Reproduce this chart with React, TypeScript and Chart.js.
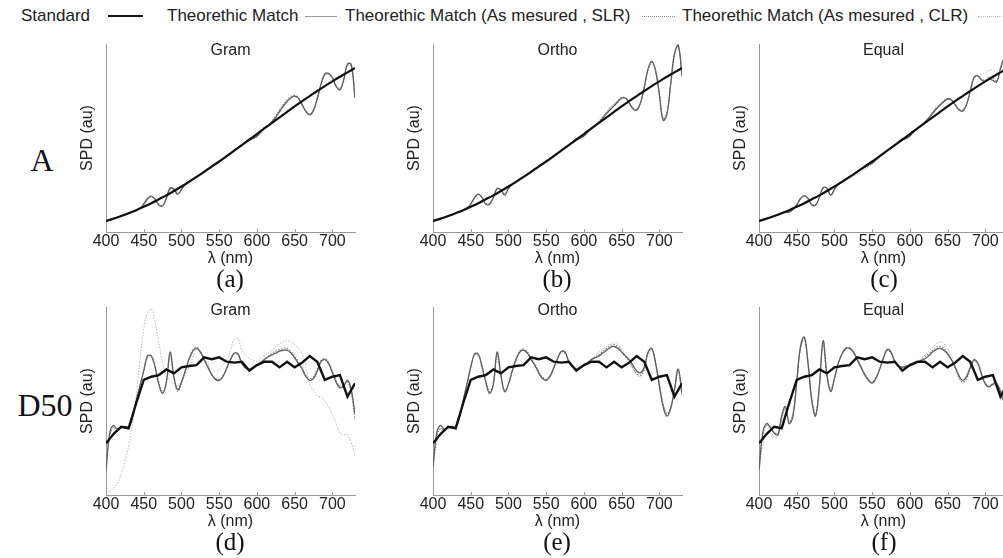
import React, { useEffect, useRef } from "react";
import { Chart, registerables } from "chart.js";

Chart.register(...registerables);

// ---------------- data ----------------
const wavelengths5 = [
  400, 405, 410, 415, 420, 425, 430, 435, 440, 445,
  450, 455, 460, 465, 470, 475, 480, 485, 490, 495,
  500, 505, 510, 515, 520, 525, 530, 535, 540, 545,
  550, 555, 560, 565, 570, 575, 580, 585, 590, 595,
  600, 605, 610, 615, 620, 625, 630, 635, 640, 645,
  650, 655, 660, 665, 670, 675, 680, 685, 690, 695,
  700, 705, 710, 715, 720, 725, 730,
];
const wavelengths10 = [
  400, 410, 420, 430, 440, 450, 460, 470, 480, 490, 500, 510, 520, 530, 540, 550, 560,
  570, 580, 590, 600, 610, 620, 630, 640, 650, 660, 670, 680, 690, 700, 710, 720, 730,
];
const xTickValues = [400, 450, 500, 550, 600, 650, 700];

const legendLabels = [
  "Standard",
  "Theorethic Match",
  "Theorethic Match (As mesured , SLR)",
  "Theorethic Match (As mesured , CLR)",
];
const panelTitles = ["Gram", "Ortho", "Equal"];
const rowLabels = ["A", "D50"];
const panelLetters = ["(a)", "(b)", "(c)", "(d)", "(e)", "(f)"];

// Illuminant A standard (10 nm)
const standardA = [
  5.9, 7.1, 8.5, 10.0, 11.6, 13.4, 15.3, 17.4, 19.5, 21.8, 24.2, 26.7, 29.3, 32.0, 34.8, 37.5, 40.4,
  43.3, 46.2, 49.2, 52.1, 55.1, 58.0, 61.0, 63.9, 66.8, 69.6, 72.3, 75.0, 77.6, 80.1, 82.6, 84.9, 87.2,
];
// D50 standard (10 nm)
const standardD50 = [
  27.5, 32.4, 36.3, 35.5, 48.8, 61.2, 62.9, 63.8, 66.8, 64.7, 67.9, 68.6, 69.1, 73.2, 72.2, 73.2, 70.9,
  70.4, 70.9, 66.1, 69.1, 70.9, 70.9, 67.9, 70.9, 67.9, 70.4, 73.9, 70.9, 61.2, 62.9, 63.8, 52.3, 59.4,
];

// ---- Row A ----
const gramA_TM = [
  5.9, 6.5, 7.1, 7.8, 8.5, 9.2, 10.0, 10.8, 11.6, 12.5,
  14.9, 17.8, 19.1, 17.3, 14.4, 13.9, 18.0, 23.4, 22.8, 20.0,
  22.7, 25.4, 26.7, 28.0, 29.3, 30.6, 32.0, 33.4, 34.8, 36.1,
  37.5, 39.0, 40.4, 41.8, 43.3, 44.7, 46.2, 47.7, 49.0, 49.8,
  50.9, 53.1, 55.6, 56.5, 58.5, 61.0, 64.0, 66.9, 69.4, 71.3,
  72.3, 71.2, 67.6, 64.0, 62.3, 64.7, 71.0, 78.8, 84.1, 84.4,
  82.1, 77.4, 75.6, 80.8, 89.4, 89.1, 71.2,
];
const gramA_SLR = [
  6.0, 6.6, 7.2, 7.9, 8.6, 9.2, 10.0, 10.8, 11.5, 12.4,
  14.6, 17.5, 19.0, 17.5, 14.7, 14.0, 17.6, 23.0, 23.2, 20.4,
  22.5, 25.2, 26.8, 28.2, 29.4, 30.5, 31.8, 33.1, 34.6, 36.1,
  37.7, 39.3, 40.7, 41.9, 43.4, 44.8, 46.1, 47.5, 48.8, 49.6,
  50.7, 53.0, 55.7, 56.8, 59.0, 61.7, 64.8, 67.6, 70.1, 71.9,
  72.6, 71.3, 67.8, 64.4, 62.8, 65.0, 71.0, 78.4, 83.6, 84.0,
  82.0, 77.8, 76.2, 81.0, 89.0, 88.5, 72.0,
];
const gramA_CLR = [
  5.5, 6.2, 6.9, 7.6, 8.4, 9.2, 10.1, 11.0, 11.8, 12.6,
  14.4, 17.2, 18.8, 17.6, 15.0, 14.3, 17.4, 22.6, 23.4, 20.9,
  22.6, 25.0, 26.6, 28.1, 29.5, 30.7, 31.9, 33.0, 34.4, 35.9,
  37.6, 39.4, 40.9, 42.1, 43.5, 44.9, 46.2, 47.5, 48.9, 49.9,
  51.0, 53.2, 55.5, 56.9, 59.3, 62.0, 65.0, 67.8, 70.3, 72.0,
  72.8, 71.6, 68.2, 64.8, 63.0, 65.0, 70.6, 77.8, 83.0, 83.8,
  82.2, 78.3, 76.8, 81.2, 88.5, 88.0, 73.0,
];
const orthoA_TM = [
  5.9, 6.5, 7.1, 7.8, 8.5, 9.2, 10.0, 10.8, 11.6, 12.5,
  14.9, 18.3, 20.1, 18.3, 14.9, 14.9, 18.5, 23.2, 22.3, 19.6,
  23.2, 25.4, 26.7, 28.0, 29.3, 30.6, 32.0, 33.4, 34.8, 36.1,
  37.5, 39.0, 40.4, 41.8, 43.3, 44.7, 46.2, 47.7, 49.0, 50.1,
  51.1, 53.1, 55.1, 56.5, 58.3, 60.5, 63.0, 65.2, 67.1, 69.3,
  71.2, 71.2, 68.6, 65.5, 64.8, 68.7, 77.0, 86.8, 90.8, 85.9,
  73.1, 59.4, 62.6, 78.8, 94.9, 99.5, 82.7,
];
const orthoA_SLR = [
  6.1, 6.7, 7.3, 7.9, 8.6, 9.3, 10.1, 10.9, 11.6, 12.4,
  14.6, 18.0, 20.0, 18.5, 15.2, 15.0, 18.2, 22.8, 22.6, 20.0,
  23.0, 25.2, 26.8, 28.1, 29.4, 30.6, 31.9, 33.2, 34.7, 36.1,
  37.6, 39.2, 40.6, 42.0, 43.4, 44.8, 46.1, 47.5, 48.8, 49.9,
  51.0, 53.0, 55.3, 56.9, 58.8, 61.1, 63.7, 66.0, 67.9, 69.9,
  71.5, 71.3, 68.8, 65.9, 65.1, 68.8, 76.8, 86.2, 90.2, 85.6,
  73.4, 60.2, 63.2, 78.6, 94.2, 99.0, 83.5,
];
const orthoA_CLR = [
  5.6, 6.3, 7.0, 7.8, 8.6, 9.4, 10.2, 11.0, 11.8, 12.6,
  14.4, 17.7, 19.7, 18.6, 15.5, 15.3, 18.0, 22.4, 22.8, 20.4,
  22.9, 25.1, 26.6, 28.1, 29.5, 30.8, 32.0, 33.2, 34.5, 35.9,
  37.5, 39.3, 40.8, 42.2, 43.6, 44.9, 46.2, 47.5, 48.9, 50.1,
  51.2, 53.2, 55.4, 57.1, 59.1, 61.5, 64.0, 66.3, 68.2, 70.1,
  71.6, 71.4, 69.0, 66.2, 65.4, 68.9, 76.5, 85.6, 89.6, 85.2,
  73.8, 61.0, 63.8, 78.3, 93.5, 98.4, 84.2,
];
const equalA_TM = [
  5.9, 6.5, 7.1, 7.8, 8.5, 9.2, 10.0, 10.5, 10.6, 12.0,
  14.4, 17.8, 19.3, 17.8, 14.4, 14.4, 18.5, 23.6, 23.3, 19.5,
  22.7, 25.4, 26.7, 28.0, 29.3, 30.6, 32.0, 33.3, 34.6, 35.6,
  36.7, 38.5, 40.4, 41.8, 43.3, 44.7, 46.2, 47.7, 49.0, 49.8,
  51.1, 53.3, 55.1, 56.5, 58.3, 60.5, 63.0, 65.4, 67.4, 69.3,
  70.7, 70.2, 67.6, 65.0, 64.3, 67.7, 75.0, 82.3, 83.0, 80.9,
  80.1, 81.4, 80.6, 79.8, 86.9, 92.1, 89.2,
];
const equalA_SLR = [
  6.1, 6.7, 7.3, 7.9, 8.6, 9.2, 9.9, 10.4, 10.7, 12.2,
  14.6, 17.6, 19.2, 18.0, 14.7, 14.5, 18.2, 23.3, 23.5, 19.8,
  22.6, 25.3, 26.7, 28.0, 29.2, 30.4, 31.7, 32.9, 34.1, 35.2,
  36.4, 38.3, 40.3, 41.8, 43.3, 44.7, 46.1, 47.6, 48.9, 49.7,
  51.0, 53.2, 55.2, 56.8, 58.7, 61.0, 63.6, 66.0, 68.0, 69.8,
  71.0, 70.3, 67.8, 65.3, 64.7, 67.9, 74.8, 81.8, 82.8, 81.2,
  80.8, 82.4, 81.8, 80.6, 86.5, 91.5, 89.0,
];
const equalA_CLR = [
  5.4, 6.1, 6.9, 7.7, 8.5, 9.3, 10.1, 10.7, 10.9, 12.1,
  14.2, 17.4, 19.0, 17.9, 14.8, 14.7, 18.3, 23.1, 23.4, 20.0,
  22.6, 25.0, 26.3, 27.4, 28.5, 29.6, 30.6, 31.8, 33.1, 34.4,
  35.9, 37.8, 39.8, 41.5, 43.1, 44.6, 46.0, 47.4, 48.7, 49.7,
  51.0, 53.1, 55.3, 57.0, 58.9, 61.2, 63.7, 66.0, 68.0, 69.8,
  71.0, 70.5, 68.2, 65.8, 65.2, 68.2, 75.0, 81.5, 83.8, 84.0,
  84.6, 86.0, 86.2, 85.0, 88.0, 91.0, 88.5,
];

// ---- Row D50 ----
const gramD_TM = [
  13, 33, 37, 35, 36, 36.5, 36, 41, 50, 58,
  66, 74, 74, 68, 59, 54, 60, 76, 63, 56,
  60, 66, 72, 76.5, 78, 76, 72, 68, 64, 61.5,
  61, 63, 67.5, 72, 75.5, 75, 70, 67.5, 67, 68,
  69, 70.5, 72, 73.5, 74.5, 75.5, 76.5, 77, 77, 75.5,
  73, 70, 67, 63, 61, 62, 66, 71, 72, 70,
  65, 60, 57, 58, 61, 56, 43,
];
const gramD_SLR = [
  15, 31, 36, 34, 35.5, 36.5, 36.5, 41.5, 50, 58,
  66, 73.5, 74, 68.5, 60, 55, 60, 74, 62, 55,
  59.5, 66, 72.5, 77, 78.5, 76.5, 72.5, 68.5, 64.5, 62,
  61.5, 63.5, 67.5, 72, 75, 74.5, 70, 67.5, 66.5, 67.5,
  69, 70.5, 72, 74, 75.5, 76.5, 77.5, 78, 78, 76.5,
  74, 71, 67.5, 63.5, 62, 63, 67, 71.5, 72.5, 70.5,
  66, 61, 58, 58.5, 60, 54, 40,
];
const gramD_CLR = [
  1, 2, 3.5, 6, 11, 18, 26, 38, 52, 72,
  88, 97, 99, 92, 81, 70, 64, 61, 59, 58,
  60, 64, 68, 73, 77, 76.5, 74, 70, 67, 66,
  67, 69, 72, 77, 83, 83, 77, 74, 72.5, 71.5,
  71, 72, 74, 75.5, 77, 79, 80.5, 81.5, 82, 81.5,
  80, 78, 75, 68, 59, 56, 53, 52, 50, 47,
  43, 38, 33, 32, 32, 28, 21,
];
const orthoD_TM = [
  15, 33, 37, 35, 36, 36.5, 36, 41, 50, 59,
  68, 75, 75, 68, 60, 54, 59, 76, 64, 55,
  59, 66, 72, 76, 77, 75.5, 72, 69, 65, 62,
  61, 63, 67.5, 72.5, 76.5, 76, 71, 68, 67, 68,
  69, 70.5, 72, 73, 74, 75.5, 77, 78.5, 79, 78,
  76, 74, 72, 69, 66, 65, 68, 76, 78, 70,
  58, 47, 42, 46, 56, 67, 54,
];
const orthoD_SLR = [
  16, 31, 35.5, 34.5, 36, 36.5, 36.5, 41.5, 50.5, 59,
  67.5, 74.5, 74.5, 68.5, 60.5, 55, 59.5, 74.5, 63, 55,
  59, 66, 72.5, 76.5, 77.5, 76, 72.5, 69.5, 65.5, 62.5,
  61.5, 63.5, 67.5, 72.5, 76, 75.5, 71, 68, 67, 67.5,
  68.5, 70, 72, 73.5, 74.5, 76.5, 78, 79.5, 80, 79,
  76.5, 73.5, 71, 67.5, 64.5, 63.5, 67, 75, 77.5, 70.5,
  59, 48, 43, 46.5, 56, 66, 53,
];
const orthoD_CLR = [
  14, 27, 33, 34, 35, 36.5, 37, 42, 51, 59.5,
  67.5, 74, 74.5, 69, 61, 56, 59.5, 73.5, 63.5, 56,
  59, 65.5, 72, 76.5, 78, 76.5, 73, 70, 66, 63,
  62, 64, 68, 72.5, 75.5, 75, 71, 68.5, 67.5, 68,
  69, 70.5, 72.5, 74.5, 76, 77.5, 79, 80.5, 81, 80,
  77.5, 74, 71, 67, 64, 63, 66.5, 74.5, 77, 71,
  60, 49, 44, 47, 55.5, 65, 52,
];
const equalD_TM = [
  13, 33, 38, 36, 33, 32, 42, 47, 38, 42,
  60, 79, 84, 70, 50, 42, 58, 82, 64, 55,
  62, 70, 75, 78, 78, 76, 72, 68, 64, 61,
  59.5, 62, 67, 73, 77.5, 76, 71, 68.5, 68, 68.5,
  69, 69.5, 70.5, 71.5, 72.5, 74, 76, 77.5, 78, 77,
  75, 72, 68, 63.5, 61, 63, 68, 72, 70, 64,
  59, 57.5, 59, 59, 55, 50, 52,
];
const equalD_SLR = [
  15, 31, 37, 35.5, 33.5, 32.5, 41, 46, 39, 43,
  60.5, 78, 83, 70.5, 51, 43, 57.5, 80.5, 64, 56,
  62, 69.5, 75, 78, 78.5, 76.5, 72.5, 68.5, 64.5, 61.5,
  60, 62.5, 67, 72.5, 77, 75.5, 71, 68.5, 67.5, 68,
  69, 69.5, 70.5, 72, 73.5, 75, 77, 78.5, 79, 78,
  75.5, 72, 67.5, 62.5, 60, 62, 67.5, 71.5, 70, 64.5,
  59.5, 58, 59.5, 59.5, 56, 51, 53,
];
const equalD_CLR = [
  12, 27, 33, 33, 31, 31, 40, 45, 39, 43.5,
  61, 77.5, 82, 70, 51.5, 44, 57, 79.5, 64.5, 56.5,
  62, 69, 74.5, 77.5, 78, 76.5, 73, 69, 65, 62,
  60.5, 63, 67.5, 72.5, 76.5, 75.5, 71.5, 69, 68, 68.5,
  69.5, 70, 71, 72.5, 74.5, 76.5, 78.5, 80.5, 81.5, 80.5,
  78, 74, 68.5, 63, 59.5, 61, 66.5, 71, 70, 65,
  60, 58, 58.5, 58, 55, 51, 55,
];

// ---------------- layout / style ----------------
const SANS = '"Liberation Sans", Arial, Helvetica, sans-serif';
const SERIF = '"Liberation Serif", "Times New Roman", serif';
const CANVAS_W = 282;
const CANVAS_H = 228;

type PanelDef = {
  title: string;
  std: number[];
  tm: number[];
  slr: number[];
  clr: number[];
  smoothStd: boolean;
  left: number;
  top: number;
  titleOffset: number;
};

const panels: PanelDef[] = [
  { title: panelTitles[0], std: standardA, tm: gramA_TM, slr: gramA_SLR, clr: gramA_CLR, smoothStd: true, left: 78, top: 40, titleOffset: 7 },
  { title: panelTitles[1], std: standardA, tm: orthoA_TM, slr: orthoA_SLR, clr: orthoA_CLR, smoothStd: true, left: 405, top: 40, titleOffset: 7 },
  { title: panelTitles[2], std: standardA, tm: equalA_TM, slr: equalA_SLR, clr: equalA_CLR, smoothStd: true, left: 731, top: 40, titleOffset: 7 },
  { title: panelTitles[0], std: standardD50, tm: gramD_TM, slr: gramD_SLR, clr: gramD_CLR, smoothStd: false, left: 78, top: 303, titleOffset: 4 },
  { title: panelTitles[1], std: standardD50, tm: orthoD_TM, slr: orthoD_SLR, clr: orthoD_CLR, smoothStd: false, left: 405, top: 303, titleOffset: 4 },
  { title: panelTitles[2], std: standardD50, tm: equalD_TM, slr: equalD_SLR, clr: equalD_CLR, smoothStd: false, left: 731, top: 303, titleOffset: 4 },
];

const toXY = (xs: number[], ys: number[]) => xs.map((x, i) => ({ x, y: ys[i] }));

function Panel({ def }: { def: PanelDef }) {
  const ref = useRef<HTMLCanvasElement>(null);
  useEffect(() => {
    const canvas = ref.current;
    if (!canvas) return;
    const decor = {
      id: "panelDecor",
      afterDraw(chart: any) {
        const { ctx, chartArea } = chart;
        const xs = chart.scales.x;
        ctx.save();
        ctx.strokeStyle = "#999";
        ctx.lineWidth = 1;
        xs.ticks.forEach((t: any) => {
          const px = Math.round(xs.getPixelForValue(t.value)) + 0.5;
          ctx.beginPath();
          ctx.moveTo(px, chartArea.bottom);
          ctx.lineTo(px, chartArea.bottom - 3);
          ctx.stroke();
        });
        ctx.fillStyle = "#222";
        ctx.font = `16px ${SANS}`;
        ctx.textAlign = "center";
        ctx.textBaseline = "middle";
        ctx.fillText(def.title, (chartArea.left + chartArea.right) / 2, chartArea.top + def.titleOffset);
        ctx.restore();
      },
    };
    const chart = new Chart(canvas, {
      type: "line",
      data: {
        datasets: [
          {
            label: legendLabels[0],
            data: toXY(wavelengths10, def.std),
            borderColor: "#111",
            borderWidth: def.smoothStd ? 2.2 : 2.4,
            tension: def.smoothStd ? 0.4 : 0,
            pointRadius: 0,
            fill: false,
            order: 0,
          },
          {
            label: legendLabels[1],
            data: toXY(wavelengths5, def.tm),
            borderColor: "#5e5e5e",
            borderWidth: 1.3,
            tension: 0.4,
            pointRadius: 0,
            fill: false,
            order: 1,
          },
          {
            label: legendLabels[2],
            data: toXY(wavelengths5, def.slr),
            borderColor: "#808080",
            borderWidth: 1.1,
            borderDash: [1.5, 1.5],
            tension: 0.4,
            pointRadius: 0,
            fill: false,
            order: 2,
          },
          {
            label: legendLabels[3],
            data: toXY(wavelengths5, def.clr),
            borderColor: "#b8b8b8",
            borderWidth: 1,
            borderDash: [1.5, 1.5],
            tension: 0.4,
            pointRadius: 0,
            fill: false,
            order: 3,
          },
        ],
      },
      options: {
        animation: false,
        responsive: false,
        maintainAspectRatio: false,
        events: [],
        layout: { padding: { top: 4, right: 5, left: 0, bottom: 0 } },
        plugins: {
          legend: { display: false },
          tooltip: { enabled: false },
          title: { display: false },
        },
        scales: {
          x: {
            type: "linear",
            min: 400,
            max: 730,
            afterFit: (s: any) => {
              s.height = 36;
            },
            afterBuildTicks: (s: any) => {
              s.ticks = xTickValues.map((v) => ({ value: v }));
            },
            ticks: {
              stepSize: 50,
              includeBounds: false,
              autoSkip: false,
              maxRotation: 0,
              padding: 0,
              color: "#222",
              font: { family: SANS, size: 16, lineHeight: 1.25 },
            },
            grid: { drawOnChartArea: false, drawTicks: false },
            border: { display: true, color: "#999", width: 1 },
            title: {
              display: true,
              text: "λ (nm)",
              color: "#222",
              font: { family: SANS, size: 16, lineHeight: 1.2 },
              padding: 0,
            },
          },
          y: {
            type: "linear",
            min: 0,
            max: 100,
            afterFit: (s: any) => {
              s.width = 28;
            },
            ticks: { display: false },
            grid: { drawOnChartArea: false, drawTicks: false },
            border: { display: true, color: "#999", width: 1 },
            title: {
              display: true,
              text: "SPD (au)",
              color: "#222",
              font: { family: SANS, size: 16, lineHeight: 1.2 },
              padding: 0,
            },
          },
        },
      },
      plugins: [decor],
    } as any);
    return () => chart.destroy();
  }, [def]);
  return (
    <div style={{ position: "absolute", left: def.left, top: def.top, width: CANVAS_W, height: CANVAS_H }}>
      <canvas ref={ref} width={CANVAS_W} height={CANVAS_H} style={{ display: "block", width: CANVAS_W, height: CANVAS_H }} />
    </div>
  );
}

const textStyle = (left: number, top: number, size: number, family: string): React.CSSProperties => ({
  position: "absolute",
  left,
  top,
  fontSize: size,
  fontFamily: family,
  lineHeight: "20px",
  color: "#222",
  whiteSpace: "nowrap",
});

const letterCenters = [230, 557, 884, 230, 557, 884];
const letterTops = [264, 264, 264, 527, 527, 527];

export default function App() {
  return (
    <div
      style={{
        position: "fixed",
        left: 0,
        top: 0,
        width: 1003,
        height: 558,
        overflow: "hidden",
        background: "#fff",
      }}
    >
      {/* legend */}
      <div style={textStyle(21, 6, 17, SANS)}>{legendLabels[0]}</div>
      <div style={{ position: "absolute", left: 108, top: 15, width: 35, height: 2, background: "#111" }} />
      <div style={textStyle(167, 6, 17, SANS)}>{legendLabels[1]}</div>
      <div style={{ position: "absolute", left: 305, top: 16, width: 32, height: 1, background: "#9a9a9a" }} />
      <div style={textStyle(345, 6, 17, SANS)}>{legendLabels[2]}</div>
      <div style={{ position: "absolute", left: 642, top: 16, width: 33, height: 0, borderTop: "1px dotted #888" }} />
      <div style={textStyle(682, 6, 17, SANS)}>{legendLabels[3]}</div>
      <div style={{ position: "absolute", left: 978, top: 16, width: 30, height: 0, borderTop: "1px dotted #bbb" }} />

      {/* row labels */}
      <div style={{ position: "absolute", left: 12, top: 141, width: 60, textAlign: "center", fontFamily: SERIF, fontSize: 32, lineHeight: "38px", color: "#111" }}>
        {rowLabels[0]}
      </div>
      <div style={{ position: "absolute", left: 5, top: 386, width: 80, textAlign: "center", fontFamily: SERIF, fontSize: 32, lineHeight: "38px", color: "#111" }}>
        {rowLabels[1]}
      </div>

      {panels.map((p, i) => (
        <Panel key={i} def={p} />
      ))}

      {panelLetters.map((t, i) => (
        <div
          key={t}
          style={{
            position: "absolute",
            left: letterCenters[i] - 30,
            top: letterTops[i],
            width: 60,
            textAlign: "center",
            fontFamily: SERIF,
            fontSize: 25,
            lineHeight: "30px",
            color: "#111",
          }}
        >
          {t}
        </div>
      ))}
    </div>
  );
}
